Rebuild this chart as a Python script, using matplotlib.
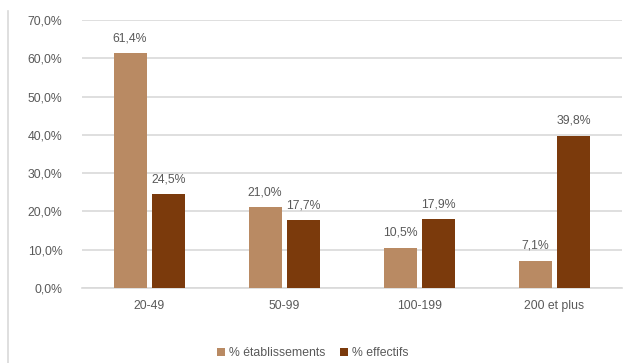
import numpy as np
import matplotlib
matplotlib.use("Agg")
import matplotlib.pyplot as plt
from matplotlib.lines import Line2D

categories = ["20-49", "50-99", "100-199", "200 et plus"]
etablissements = [61.4, 21.0, 10.5, 7.1]
effectifs = [24.5, 17.7, 17.9, 39.8]
y_ticks = [0, 10, 20, 30, 40, 50, 60, 70]

plt.rcParams["font.family"] = ["Liberation Sans", "DejaVu Sans"]
text_color = "#595959"
light = "#B98A63"
dark = "#7B3A0C"

fig = plt.figure(figsize=(6.25, 3.63), dpi=100)
ax = fig.add_axes([0.131, 0.207, 0.864, 0.738])

x = np.arange(len(categories))
w = 0.245
off = 0.143
b1 = ax.bar(x - off, etablissements, w, color=light, label="% établissements", zorder=3)
b2 = ax.bar(x + off, effectifs, w, color=dark, label="% effectifs", zorder=3)

def fmt(v):
    return f"{v:.1f}%".replace(".", ",")

for bars, vals in [(b1, etablissements), (b2, effectifs)]:
    for rect, v in zip(bars, vals):
        ax.text(rect.get_x() + rect.get_width() / 2, v + 2.3, fmt(v),
                ha="center", va="bottom", fontsize=8.8, color=text_color)

ax.set_ylim(0, 70)
ax.set_xlim(-0.5, len(categories) - 0.5)
ax.set_yticks(y_ticks)
ax.set_yticklabels([fmt(t) for t in y_ticks])
ax.set_xticks(x)
ax.set_xticklabels(categories)
ax.yaxis.grid(True, color="#D9D9D9", linewidth=1.2, zorder=0)
ax.tick_params(axis="both", length=0, labelsize=8.8, colors=text_color)
ax.tick_params(axis="x", pad=9)
ax.tick_params(axis="y", pad=14)
for s in ["top", "right", "left"]:
    ax.spines[s].set_visible(False)
ax.spines["bottom"].set_color("#D9D9D9")
ax.spines["bottom"].set_linewidth(1.2)

fig.legend(loc="lower center", bbox_to_anchor=(0.5, -0.02), ncol=2, frameon=False,
           fontsize=8.8, handlelength=0.7, handleheight=0.7, handletextpad=0.3,
           columnspacing=1.2, labelcolor=text_color)

fig.add_artist(Line2D([0.013, 0.013], [0.0, 0.97], color="#D9D9D9", linewidth=1.2,
                      transform=fig.transFigure))

fig.savefig("out.png", dpi=100)
